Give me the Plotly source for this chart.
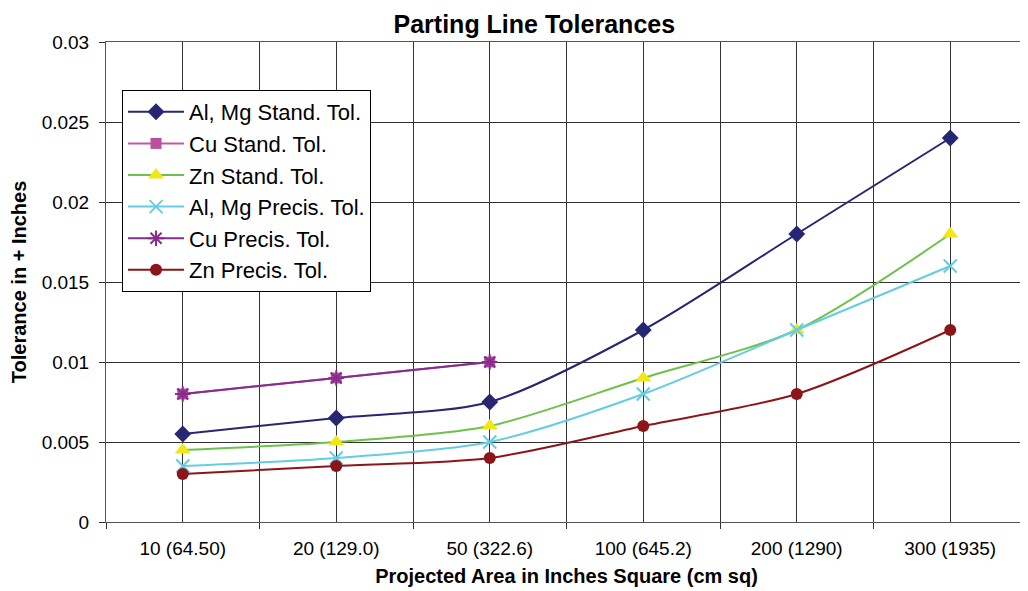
import plotly.graph_objects as go

categories = ["10 (64.50)", "20 (129.0)", "50 (322.6)", "100 (645.2)", "200 (1290)", "300 (1935)"]
al_mg_stand = [0.0055, 0.0065, 0.0075, 0.012, 0.018, 0.024]
cu_stand = [0.008, 0.009, 0.010]
zn_stand = [0.0045, 0.005, 0.006, 0.009, 0.012, 0.018]
al_mg_precis = [0.0035, 0.004, 0.005, 0.008, 0.012, 0.016]
cu_precis = [0.008, 0.009, 0.010]
zn_precis = [0.003, 0.0035, 0.004, 0.006, 0.008, 0.012]
y_ticks = [0, 0.005, 0.01, 0.015, 0.02, 0.025, 0.03]

xs = list(range(len(categories)))

series = [
    ("Al, Mg Stand. Tol.", al_mg_stand, "#262673", dict(symbol="diamond", size=13, color="#262673")),
    ("Cu Stand. Tol.", cu_stand, "#c05aa8", dict(symbol="square", size=11, color="#b8509e")),
    ("Zn Stand. Tol.", zn_stand, "#6cc24a", dict(symbol="triangle-up", size=14, color="#f2e614")),
    ("Al, Mg Precis. Tol.", al_mg_precis, "#66cce0", dict(symbol="x-thin-open", size=13, color="#66cce0", line=dict(width=2, color="#66cce0"))),
    ("Cu Precis. Tol.", cu_precis, "#862d8c", dict(symbol="asterisk-open", size=13, color="#862d8c", line=dict(width=2, color="#862d8c"))),
    ("Zn Precis. Tol.", zn_precis, "#8b1518", dict(symbol="circle", size=12, color="#8b1518")),
]

fig = go.Figure()
for i, (name, vals, lc, mk) in enumerate(series):
    fig.add_trace(go.Scatter(
        x=xs[:len(vals)], y=vals, name=name, mode="lines+markers",
        line=dict(color=lc, width=2, shape="spline", smoothing=0.8),
        marker=mk,
    ))

fig.update_layout(
    width=1020, height=583,
    margin=dict(l=98, r=1, t=34, b=69),
    paper_bgcolor="white", plot_bgcolor="white",
    font=dict(family="Liberation Sans, Arial", size=19, color="black"),
    title=dict(text="<b>Parting Line Tolerances</b>", x=0.516, xanchor="center",
               y=0.9726, yanchor="middle", font=dict(size=25)),
    showlegend=True,
    legend=dict(x=0.0174, y=0.9, xanchor="left", yanchor="top",
                bgcolor="white", bordercolor="black", borderwidth=1,
                font=dict(size=22), itemwidth=56),
    xaxis=dict(
        range=[-0.5, len(categories) - 0.5], tickmode="array", tickvals=xs, ticktext=categories,
        showgrid=True, gridcolor="#333", gridwidth=1, ticks="", zeroline=False,
        showline=True, linecolor="#555", linewidth=1, mirror=True,
        ticklabelstandoff=9,
        minor=dict(tickmode="linear", tick0=-0.5, dtick=1, showgrid=True, gridcolor="#333",
                   gridwidth=1, ticks="outside", ticklen=6, tickcolor="#333"),
        title=dict(text="<b>Projected Area in Inches Square (cm sq)</b>", font=dict(size=20), standoff=11),
        tickfont=dict(size=19),
    ),
    yaxis=dict(
        range=[0, 0.03], tickmode="array", tickvals=y_ticks,
        ticktext=[("%g" % v) for v in y_ticks],
        showgrid=True, gridcolor="#333", gridwidth=1, zeroline=False,
        ticks="outside", ticklen=6, tickcolor="#333",
        ticklabelstandoff=6,
        showline=True, linecolor="#555", linewidth=1, mirror=True,
        title=dict(text="<b>Tolerance in + Inches</b>", font=dict(size=20), standoff=9),
        tickfont=dict(size=19),
    ),
)

fig.write_html("out.html")
